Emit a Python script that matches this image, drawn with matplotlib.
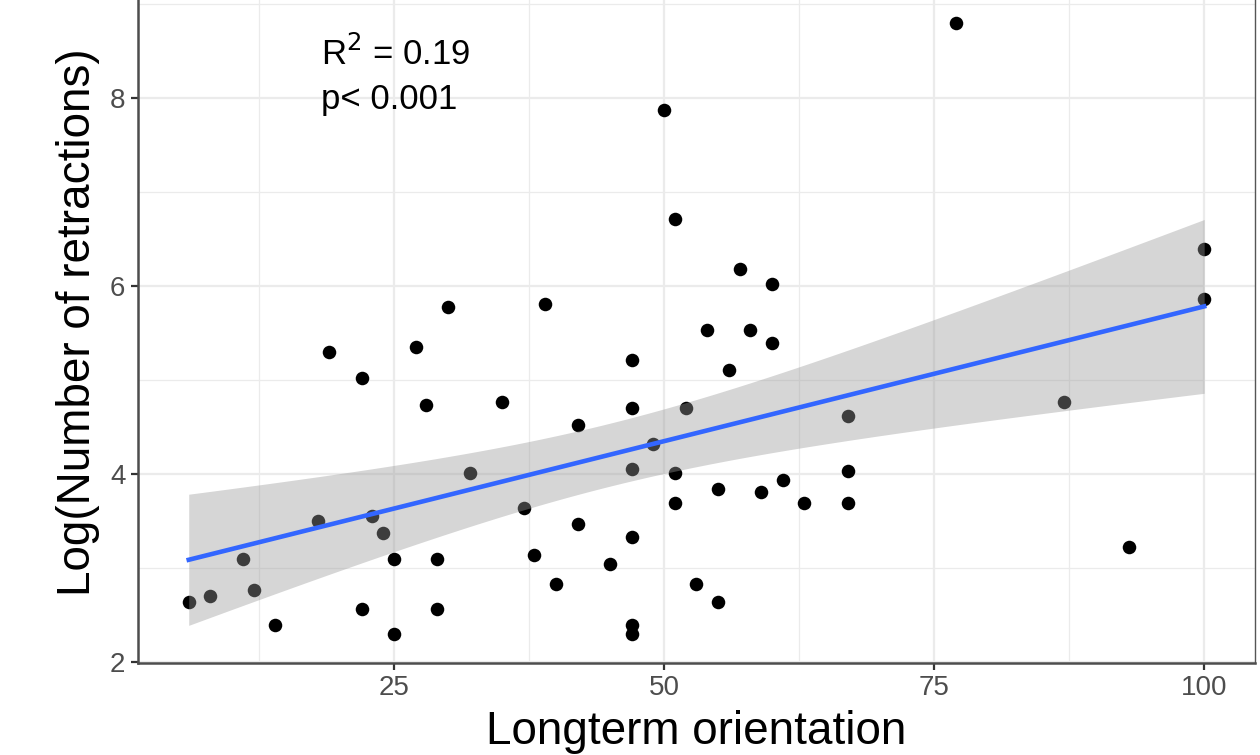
import numpy as np
import matplotlib
matplotlib.use("Agg")
import matplotlib.pyplot as plt
from matplotlib.ticker import MultipleLocator

plt.rcParams['font.family'] = ['Liberation Sans', 'DejaVu Sans']

# Longterm orientation vs log(number of retractions)
orientation = [6, 8, 11, 12, 14, 18, 19, 22, 22, 23, 24, 25, 25, 27, 28,
               29, 29, 30, 32, 35, 37, 38, 39, 40, 42, 42, 45, 47, 47, 47,
               47, 47, 47, 49, 50, 51, 51, 51, 52, 53, 54, 55, 55, 56, 57,
               58, 59, 60, 60, 61, 63, 67, 67, 67, 77, 87, 93, 100, 100]
log_retractions = [2.64, 2.70, 3.10, 2.77, 2.39, 3.50, 5.30, 5.02, 2.56, 3.55,
                   3.37, 3.10, 2.30, 5.35, 4.74, 3.10, 2.56, 5.78, 4.01, 4.77,
                   3.64, 3.14, 5.81, 2.83, 4.52, 3.47, 3.04, 5.22, 4.70, 4.06,
                   3.33, 2.39, 2.30, 4.32, 7.88, 6.72, 4.01, 3.69, 4.70, 2.83,
                   5.54, 3.84, 2.64, 5.11, 6.18, 5.54, 3.81, 6.02, 5.40, 3.94,
                   3.69, 4.62, 4.03, 3.69, 8.80, 4.77, 3.22, 6.40, 5.86]

x = np.array(orientation, dtype=float)
y = np.array(log_retractions)

# linear fit with 95% confidence band (like geom_smooth(method="lm"))
n = len(x)
slope, intercept = np.polyfit(x, y, 1)
xs = np.linspace(x.min(), x.max(), 200)
fit = intercept + slope * xs
resid = y - (intercept + slope * x)
s = np.sqrt(np.sum(resid ** 2) / (n - 2))
t_crit = 2.002  # t(0.975, df=57)
se = s * np.sqrt(1 / n + (xs - x.mean()) ** 2 / np.sum((x - x.mean()) ** 2))

fig = plt.figure(figsize=(12.6, 7.55), dpi=100)
ax = fig.add_axes([0.1095, 0.1219, 0.8865, 0.8821])

ax.scatter(x, y, s=95, color='black', linewidths=0, zorder=2)
ax.fill_between(xs, fit - t_crit * se, fit + t_crit * se,
                color='#999999', alpha=0.4, linewidth=0, zorder=3)
ax.plot(xs, fit, color='#3366FF', linewidth=3.3, zorder=4)

ax.text(18.2, 8.47, r'R$^2$ = 0.19', fontsize=25, va='center', ha='left')
ax.text(18.2, 7.99, 'p< 0.001', fontsize=25, va='center', ha='left')

ax.set_xlim(1.3, 104.7)
ax.set_ylim(1.99, 9.08)
ax.xaxis.set_major_locator(MultipleLocator(25))
ax.xaxis.set_minor_locator(MultipleLocator(12.5))
ax.yaxis.set_major_locator(MultipleLocator(2))
ax.yaxis.set_minor_locator(MultipleLocator(1))
ax.set_xticks([25, 50, 75, 100])

ax.grid(True, which='major', color='#EBEBEB', linewidth=1.6, zorder=0)
ax.grid(True, which='minor', color='#EBEBEB', linewidth=0.9, zorder=0)
ax.set_axisbelow(True)

ax.tick_params(which='major', length=5, width=1.6, color='#333333',
               labelsize=20, labelcolor='#4D4D4D', pad=4)
ax.tick_params(which='minor', length=0)

for side in ['left', 'bottom']:
    ax.spines[side].set_color('#4D4D4D')
    ax.spines[side].set_linewidth(1.8)
for side in ['right', 'top']:
    ax.spines[side].set_color('#555555')
    ax.spines[side].set_linewidth(1.0)

ax.set_xlabel('Longterm orientation', fontsize=33, labelpad=6)
ax.set_ylabel('Log(Number of retractions)', fontsize=33)
ax.yaxis.set_label_coords(-0.034, 0.512)

fig.savefig('out.png', dpi=100)
